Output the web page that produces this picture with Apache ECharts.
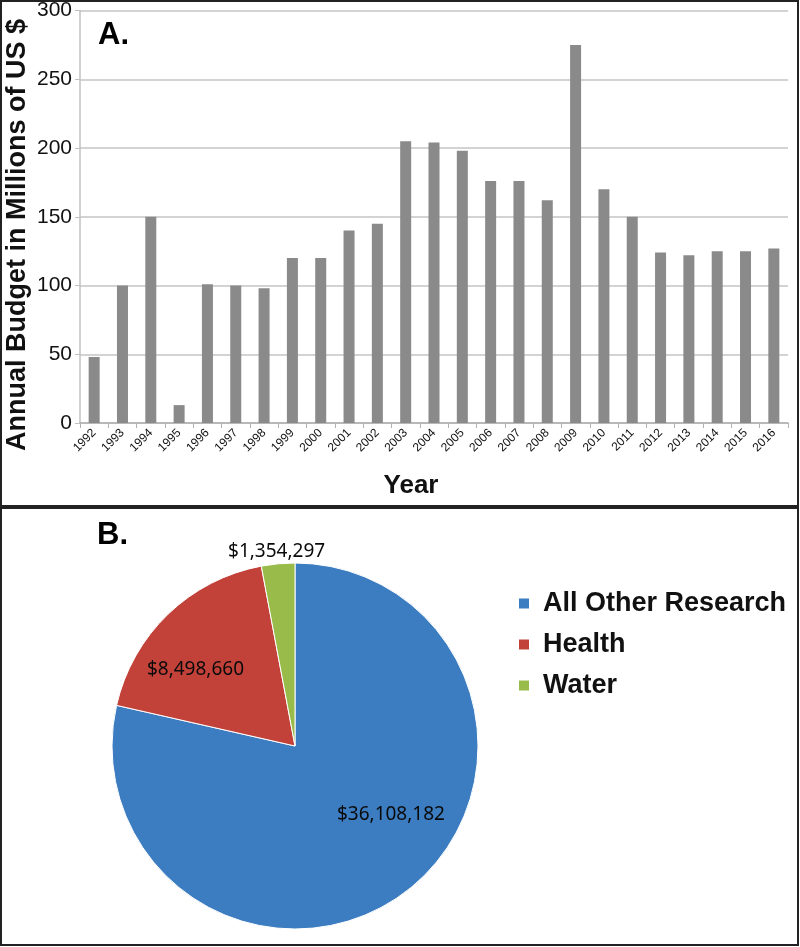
<!DOCTYPE html>
<html>
<head>
<meta charset="utf-8">
<script src="https://cdn.jsdelivr.net/npm/echarts@6/dist/echarts.min.js"></script>
<style>
html,body{margin:0;padding:0;background:#fff;}
#chart{width:800px;height:947px;}
</style>
</head>
<body>
<div id="chart"></div>
<script>
// ---- Data ----
const years = ['1992','1993','1994','1995','1996','1997','1998','1999','2000','2001','2002','2003','2004','2005','2006','2007','2008','2009','2010','2011','2012','2013','2014','2015','2016'];
const budget = [48,100,150,13,101,100,98,120,120,140,145,205,204,198,176,176,162,275,170,150,124,122,125,125,127];
const yTicks = [0,50,100,150,200,250,300];
const pieNames = ['All Other Research','Health','Water'];
const pieValues = [36108182, 8498660, 1354297];
const pieColors = ['#3c7cc0','#c2423a','#98bb4a'];

const fmt = v => '$' + v.toLocaleString('en-US');

const chart = echarts.init(document.getElementById('chart'), null, {renderer:'canvas'});
const axisFont = 'Liberation Sans, Arial, sans-serif';

const option = {
  animation: false,
  backgroundColor: '#fff',
  grid: {left: 80, top: 8, width: 708, height: 415, containLabel: false},
  xAxis: {
    type: 'category',
    data: years,
    axisLine: {lineStyle: {color: '#b0b0b0', width: 1.5}},
    axisTick: {show: true, length: 5, lineStyle: {color: '#b0b0b0'}},
    axisLabel: {interval: 0, rotate: 45, fontSize: 12, color: '#111', fontFamily: axisFont, margin: 8}
  },
  yAxis: {
    type: 'value',
    min: yTicks[0], max: yTicks[yTicks.length-1], interval: 50,
    axisLine: {show: true, lineStyle: {color: '#c0c0c0', width: 1.5}},
    axisTick: {show: true, length: 5, lineStyle: {color: '#c0c0c0'}},
    axisLabel: {fontSize: 21, color: '#111', fontFamily: axisFont, margin: 8},
    splitLine: {lineStyle: {color: '#c4c4c4', width: 1.5}}
  },
  legend: {
    orient: 'vertical',
    left: 512, top: 585,
    itemWidth: 12, itemHeight: 12, itemGap: 14,
    icon: 'rect',
    data: pieNames,
    textStyle: {fontSize: 27, fontWeight: 'bold', color: '#111', fontFamily: axisFont, padding: [0,0,0,8]}
  },
  series: [
    {
      type: 'bar',
      data: budget,
      barWidth: 11,
      itemStyle: {color: '#8a8a8a'}
    },
    {
      type: 'pie',
      center: [295, 746],
      radius: 183,
      startAngle: 90,
      clockwise: true,
      data: pieNames.map((n,i) => ({
        name: n, value: pieValues[i], itemStyle: {color: pieColors[i]},
        label: i === 2 ? {position: 'outside'} : {position: 'inside'},
        labelLine: {show: false, length: 10, length2: 0}
      })),
      itemStyle: {borderColor: '#ffffff', borderWidth: 1},
      label: {
        formatter: p => fmt(p.value),
        fontSize: 19, color: '#0a0a0a', fontFamily: 'Noto Sans, sans-serif'
      },
      labelLayout: function (p) {
        if (p.dataIndex === 0) return {dx: 37, dy: -5};
        if (p.dataIndex === 1) return {dx: -34, dy: -8};
        return {dx: 53, dy: -2};
      }
    }
  ],
  graphic: [
    {type: 'rect', shape: {x: 1, y: 1, width: 797, height: 505}, style: {fill: 'none', stroke: '#222', lineWidth: 2}, silent: true},
    {type: 'rect', shape: {x: 1, y: 508, width: 797, height: 437}, style: {fill: 'none', stroke: '#222', lineWidth: 2}, silent: true},
    {type: 'text', left: 98, top: 20, style: {text: 'A.', font: 'bold 31px ' + axisFont, fill: '#000'}},
    {type: 'text', left: 97, top: 520, style: {text: 'B.', font: 'bold 31px ' + axisFont, fill: '#000'}},
    {type: 'text', x: 18, y: 235, rotation: Math.PI/2,
      style: {text: 'Annual Budget in Millions of US $', font: 'bold 27px ' + axisFont, fill: '#111', align: 'center', verticalAlign: 'middle'}},
    {type: 'text', x: 411, y: 486,
      style: {text: 'Year', font: 'bold 26px ' + axisFont, fill: '#111', align: 'center', verticalAlign: 'middle'}}
  ]
};
chart.setOption(option);
</script>
</body>
</html>
